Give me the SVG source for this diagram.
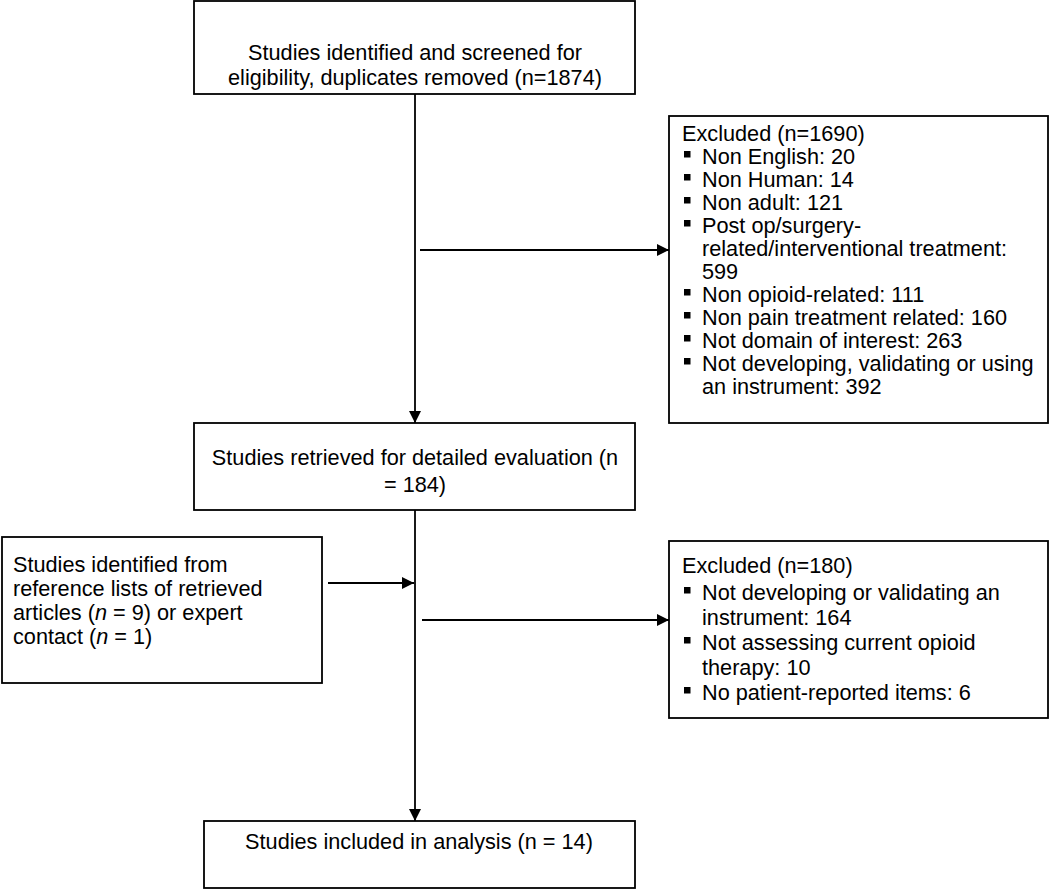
<svg xmlns="http://www.w3.org/2000/svg" xmlns:xlink="http://www.w3.org/1999/xlink" width="1050" height="890" viewBox="0 0 1050 890">
<style>
.box{fill:#fff;stroke:#000;stroke-width:1.8}
.t{font-family:"Liberation Sans",Arial,sans-serif;font-size:21.7px;fill:#000}
.c{text-anchor:middle}
.ln{stroke:#000;stroke-width:1.8;fill:none}
</style>
<defs>
<marker id="ah" viewBox="0 0 12 12" refX="12" refY="6" markerWidth="12" markerHeight="12" markerUnits="userSpaceOnUse" orient="auto">
<path d="M0,0 L12,6 L0,12 Z" fill="#000"/>
</marker>
<rect id="b" width="6.5" height="6.5" fill="#000"/>
</defs>
<rect width="1050" height="890" fill="#fff"/>
<g id="connectors">
<line class="ln" x1="415" y1="94" x2="415" y2="423" marker-end="url(#ah)"/>
<line class="ln" x1="420" y1="250" x2="669" y2="250" marker-end="url(#ah)"/>
<line class="ln" x1="415" y1="510" x2="415" y2="821" marker-end="url(#ah)"/>
<line class="ln" x1="328" y1="583" x2="414" y2="583" marker-end="url(#ah)"/>
<line class="ln" x1="422" y1="620" x2="669" y2="620" marker-end="url(#ah)"/>
</g>
<g id="n1">
<rect class="box" x="194" y="1" width="441" height="93"/>
<text class="t c" x="415" y="60">Studies identified and screened for</text>
<text class="t c" x="415" y="85">eligibility, duplicates removed (n=1874)</text>
</g>
<g id="n2">
<rect class="box" x="669" y="116" width="379" height="307"/>
<text class="t" x="682" y="141">Excluded (n=1690)</text>
<use xlink:href="#b" x="684" y="151"/>
<text class="t" x="702" y="164">Non English: 20</text>
<use xlink:href="#b" x="684" y="174"/>
<text class="t" x="702" y="187">Non Human: 14</text>
<use xlink:href="#b" x="684" y="197"/>
<text class="t" x="702" y="210">Non adult: 121</text>
<use xlink:href="#b" x="684" y="220"/>
<text class="t" x="702" y="233">Post op/surgery-</text>
<text class="t" x="702" y="256">related/interventional treatment:</text>
<text class="t" x="702" y="279">599</text>
<use xlink:href="#b" x="684" y="289"/>
<text class="t" x="702" y="302">Non opioid-related: 111</text>
<use xlink:href="#b" x="684" y="312"/>
<text class="t" x="702" y="325">Non pain treatment related: 160</text>
<use xlink:href="#b" x="684" y="335"/>
<text class="t" x="702" y="348">Not domain of interest: 263</text>
<use xlink:href="#b" x="684" y="358"/>
<text class="t" x="702" y="371">Not developing, validating or using</text>
<text class="t" x="702" y="394">an instrument: 392</text>
</g>
<g id="n3">
<rect class="box" x="194" y="423" width="441" height="87"/>
<text class="t c" x="415" y="465">Studies retrieved for detailed evaluation (n</text>
<text class="t c" x="415" y="492">= 184)</text>
</g>
<g id="n4">
<rect class="box" x="2" y="537" width="320" height="146"/>
<text class="t" x="13" y="572">Studies identified from</text>
<text class="t" x="13" y="596">reference lists of retrieved</text>
<text class="t" x="13" y="620">articles (<tspan font-style="italic">n</tspan> = 9) or expert</text>
<text class="t" x="13" y="644">contact (<tspan font-style="italic">n</tspan> = 1)</text>
</g>
<g id="n5">
<rect class="box" x="669" y="541" width="379" height="177"/>
<text class="t" x="682" y="573">Excluded (n=180)</text>
<use xlink:href="#b" x="684" y="587"/>
<text class="t" x="702" y="600">Not developing or validating an</text>
<text class="t" x="702" y="625">instrument: 164</text>
<use xlink:href="#b" x="684" y="637"/>
<text class="t" x="702" y="650">Not assessing current opioid</text>
<text class="t" x="702" y="675">therapy: 10</text>
<use xlink:href="#b" x="684" y="687"/>
<text class="t" x="702" y="700">No patient-reported items: 6</text>
</g>
<g id="n6">
<rect class="box" x="204" y="821" width="431" height="67"/>
<text class="t c" x="419" y="849">Studies included in analysis (n = 14)</text>
</g>
</svg>
